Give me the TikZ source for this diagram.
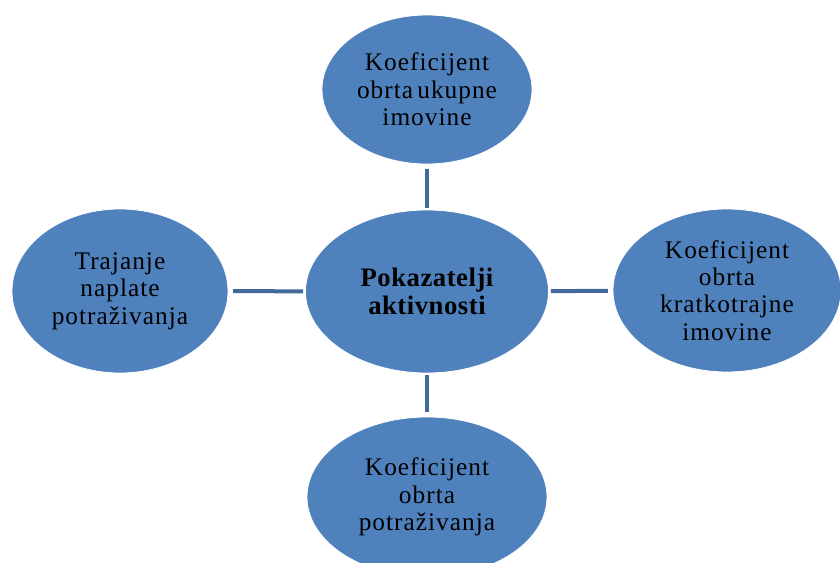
\documentclass[tikz,border=0pt]{standalone}
\usepackage{fontspec}
\setmainfont{Liberation Serif}
\usetikzlibrary{shapes.geometric}
\definecolor{ellfill}{HTML}{4F81BD}
\definecolor{linkcol}{HTML}{41699B}
\tikzset{
  bubble/.style={ellipse, fill=ellfill, draw=white, line width=0.6pt, inner sep=0pt, align=center,
    font=\fontsize{19}{20.5}\selectfont\addfontfeature{LetterSpace=4}, text=black},
  link/.style={draw=linkcol, line width=3pt}
}
\begin{document}
\begin{tikzpicture}[x=0.75pt,y=-0.75pt]
\useasboundingbox (0,0) rectangle (840,563);
\begin{scope}
\clip (0,0) rectangle (840,563);
\node[bubble, minimum width=157.5pt, minimum height=111.75pt] (top) at (427,89.5) {Koeficijent\\obrta\,ukupne\\imovine};
\node[bubble, minimum width=182.25pt, minimum height=122.25pt, font=\fontsize{20}{21}\selectfont\bfseries\addfontfeature{LetterSpace=2}] (mid) at (427,291.5) {Pokazatelji\\aktivnosti};
\node[bubble, minimum width=162pt, minimum height=123pt] (left) at (120,291) {Trajanje\\naplate\\potraživanja};
\node[bubble, minimum width=171pt, minimum height=122.25pt] (right) at (727,290.5) {Koeficijent\\obrta\\kratkotrajne\\imovine};
\node[bubble, minimum width=180pt, minimum height=120pt] (bot) at (427,497) {Koeficijent\\obrta\\potraživanja};
\end{scope}
\draw[link, shorten <=1.5pt, shorten >=3.5pt] (mid) -- (top);
\draw[link, shorten <=1.5pt, shorten >=3.5pt] (mid) -- (left);
\draw[link, shorten <=1.5pt, shorten >=3.5pt] (mid) -- (right);
\draw[link, shorten <=1.5pt, shorten >=3.5pt] (mid) -- (bot);
\end{tikzpicture}
\end{document}
